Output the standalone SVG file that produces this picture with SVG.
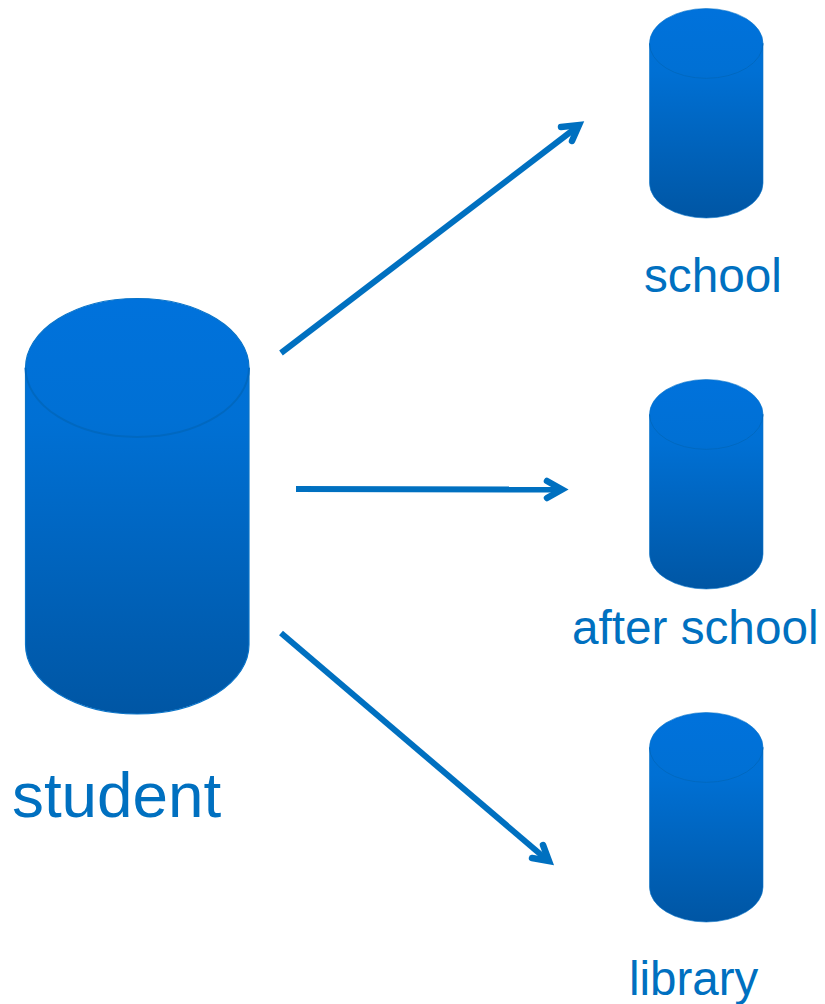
<svg xmlns="http://www.w3.org/2000/svg" width="825" height="1004" viewBox="0 0 825 1004">
<defs>
<linearGradient id="g" x1="0" y1="0" x2="0" y2="1"><stop offset="0" stop-color="#0072dc"/><stop offset="0.3" stop-color="#0070d4"/><stop offset="1" stop-color="#0056a4"/></linearGradient>
<symbol id="cyl" viewBox="0 0 114 210" overflow="visible" preserveAspectRatio="none">
<path class="body" d="M0 35A57 35 0 0 1 114 35V175A57 35 0 0 1 0 175Z"/>
<path class="rim" d="M0 35A57 35 0 0 0 114 35"/>
</symbol>
</defs>
<style>
.body{fill:url(#g);stroke:#0a74c8;stroke-width:.6}
.rim{fill:none;stroke:#0068c0;stroke-width:1}
.lbl{font-family:"Liberation Sans",Arial,sans-serif;fill:#0070c0}
.arrow{fill:none;stroke:#0070c0;stroke-width:6}
.head{fill:none;stroke:#0070c0;stroke-width:6.500;stroke-linecap:round;stroke-linejoin:miter}
</style>
<g id="student"><use href="#cyl" x="25.500" y="298.500" width="223.500" height="415.500"/><text class="lbl" x="12" y="817" font-size="63.800">student</text></g>
<g id="school"><use href="#cyl" x="649.500" y="8.500" width="113.500" height="209.500"/><text class="lbl" x="644" y="292" font-size="47.700">school</text></g>
<g id="after-school"><use href="#cyl" x="649.500" y="379.500" width="113.500" height="209.500"/><text class="lbl" x="572" y="644" font-size="47.700">after school</text></g>
<g id="library"><use href="#cyl" x="649.500" y="712.500" width="113.500" height="209.500"/><text class="lbl" x="629" y="995" font-size="47.500">library</text></g>
<g id="connectors">
<path class="arrow" d="M281 353L577 127"/><path class="head" d="M561 127L579 125L572 141"/>
<path class="arrow" d="M296 489L560 489.500"/><path class="head" d="M547 481L562 489.500L547 498"/>
<path class="arrow" d="M281 633L546 859"/><path class="head" d="M543 845L549 861L532 858"/>
</g>
</svg>
